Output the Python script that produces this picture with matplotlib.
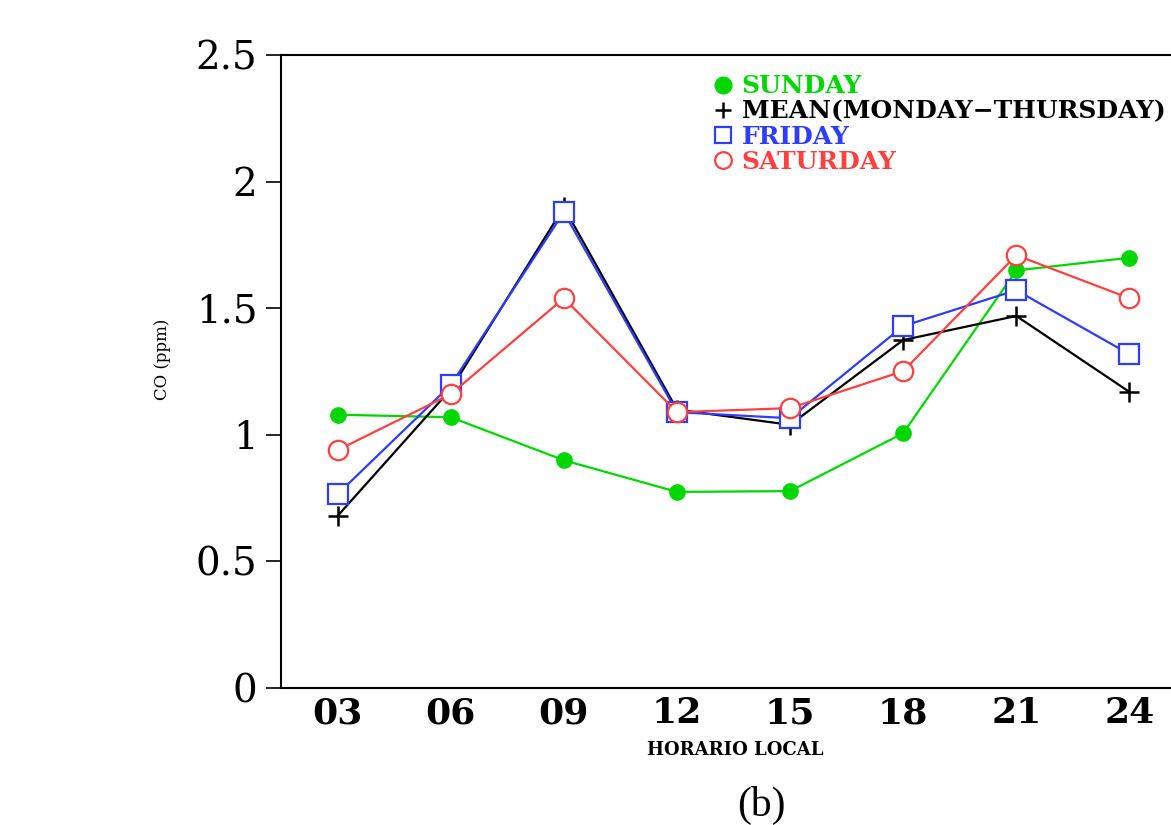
import numpy as np
import matplotlib
matplotlib.use('Agg')
import matplotlib.pyplot as plt

# Hourly CO (ppm) by day type
hours = ['03', '06', '09', '12', '15', '18', '21', '24']
sunday = [1.08, 1.07, 0.90, 0.775, 0.778, 1.007, 1.65, 1.70]
mean_mon_thu = [0.68, 1.18, 1.90, 1.10, 1.04, 1.375, 1.47, 1.17]
friday = [0.766, 1.197, 1.88, 1.09, 1.066, 1.43, 1.572, 1.319]
saturday = [0.94, 1.161, 1.54, 1.09, 1.106, 1.252, 1.71, 1.54]

x = np.arange(len(hours))

fig = plt.figure(figsize=(11.71, 8.25), dpi=100)
ax = fig.add_axes([0.24, 0.166, 0.7728, 0.767])

ax.plot(x, sunday, color='#00d600', lw=1.6, marker='o', ms=11,
        mfc='#00d600', mec='#00d600', label='SUNDAY')
ax.plot(x, mean_mon_thu, color='black', lw=1.6, marker='+', ms=15,
        mew=1.8, label='MEAN(MONDAY\u2212THURSDAY)')
ax.plot(x, friday, color='#2d3cff', lw=1.6, marker='s', ms=14,
        mfc='white', mec='#2d3cff', mew=1.6, label='FRIDAY')
ax.plot(x, saturday, color='#ff4040', lw=1.6, marker='o', ms=14,
        mfc='white', mec='#ff4040', mew=1.6, label='SATURDAY')

ax.set_xlim(-0.5, 7.5)
ax.set_ylim(0, 2.5)
ax.set_yticks([0, 0.5, 1, 1.5, 2, 2.5])
ax.set_yticklabels(['0', '0.5', '1', '1.5', '2', '2.5'],
                   fontfamily='DejaVu Serif', fontsize=28)
ax.set_xticks(x)
ax.set_xticklabels(hours, fontfamily='DejaVu Serif', fontsize=26,
                   fontweight='bold')
ax.tick_params(axis='y', direction='out', length=11, width=1.2, pad=6)
ax.tick_params(axis='x', length=0, pad=6)
for s in ax.spines.values():
    s.set_linewidth(1.5)

ax.set_ylabel('CO (ppm)', fontfamily='DejaVu Serif', fontsize=12)
ax.yaxis.set_label_coords(-0.122, 0.52)
ax.set_xlabel('HORARIO LOCAL', fontfamily='DejaVu Serif', fontsize=13,
              fontweight='bold')
ax.xaxis.set_label_coords(0.502, -0.083)

leg = ax.legend(loc='upper left', bbox_to_anchor=(0.476, 0.97),
                frameon=False, handlelength=0.9, handletextpad=0.3,
                borderpad=0, labelspacing=0.05, borderaxespad=0,
                prop={'family': 'DejaVu Serif', 'weight': 'bold', 'size': 18})
for line in leg.get_lines():
    line.set_linestyle('none')
    line.set_markersize(12)
for txt, c in zip(leg.get_texts(), ['#00d600', 'black', '#2d3cff', '#ff4040']):
    txt.set_color(c)

fig.text(0.65, 0.024, '(b)', ha='center', va='center',
         fontfamily='Liberation Serif', fontsize=30)

fig.savefig('out.png', dpi=100)
